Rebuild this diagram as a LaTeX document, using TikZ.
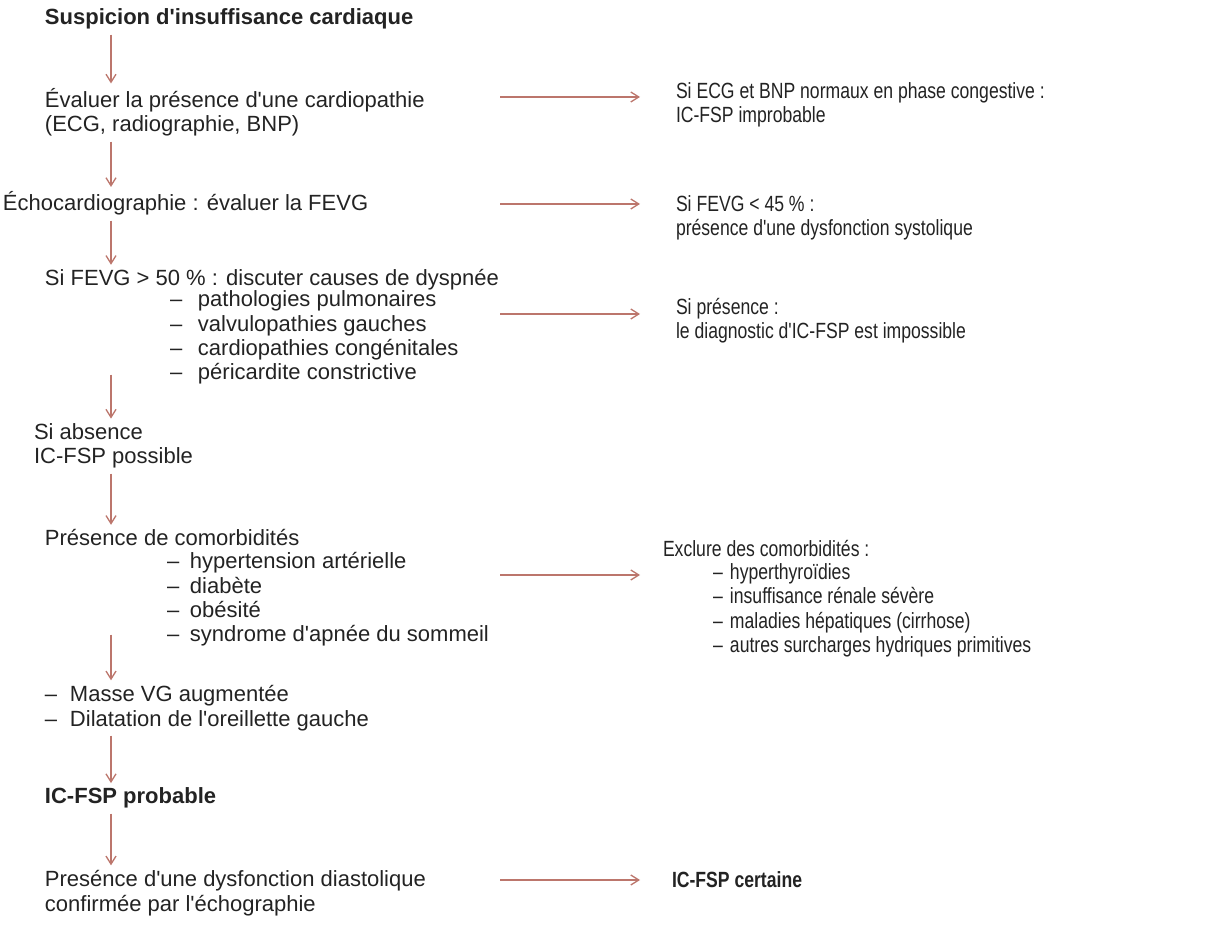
\documentclass[tikz,border=0pt]{standalone}
\usepackage{fontspec}
\setmainfont{Liberation Sans}[Ligatures=TeXOff]
\newfontfamily\etroit{Liberation Sans}[FakeStretch=0.8,Ligatures=TeXOff]
\usetikzlibrary{arrows.meta}
\definecolor{encre}{RGB}{35,35,35}
\definecolor{brique}{RGB}{188,118,108}
\newcommand\taille{\fontsize{11pt}{12.25pt}\selectfont}
\newcommand\puce[1]{\makebox[#1][l]{–}}
\tikzset{
  etape/.style={anchor=base west,inner sep=0pt,outer sep=2.5pt,align=left,text=encre},
  titre/.style={etape,font=\taille\bfseries},
  issue/.style={etape,font=\etroit\taille},
  fl/.style={draw=brique,line width=0.65pt,-{Straight Barb[length=4pt,width=5pt]}}
}
\begin{document}
\begin{tikzpicture}[x=0.5pt,y=-0.5pt,font=\taille]
\useasboundingbox[fill=white] (0,0) rectangle (1207,925);
\coordinate (axe) at (111,0);
% colonne de gauche (base = derniere ligne)
\node[titre] (susp) at (40,25) {Suspicion d'insuffisance cardiaque};
\node[etape] (eval) at (40,132) {Évaluer la présence d'une cardiopathie\\(ECG, radiographie, BNP)};
\node[etape] (echo) at (-2,211) {Échocardiographie : évaluer la FEVG};
\node[etape] (dysp) at (40,286) {Si FEVG > 50 \% : discuter causes de dyspnée};
\node[etape] (causes) at (165,380) {\puce{14pt}pathologies pulmonaires\\
  \puce{14pt}valvulopathies gauches\\\puce{14pt}cardiopathies congénitales\\
  \puce{14pt}péricardite constrictive};
\node[etape] (absence) at (29,464) {Si absence\\IC-FSP possible};
\node[etape] (comorb) at (40,546) {Présence de comorbidités};
\node[etape] (facteurs) at (162,642) {\puce{11.5pt}hypertension artérielle\\
  \puce{11.5pt}diabète\\\puce{11.5pt}obésité\\\puce{11.5pt}syndrome d'apnée du sommeil};
\node[etape] (masse) at (40,726) {\puce{12.5pt}Masse VG augmentée\\
  \puce{12.5pt}Dilatation de l'oreillette gauche};
\node[titre] (probable) at (40,804) {IC-FSP probable};
\node[etape] (diast) at (40,911) {Presénce d'une dysfonction diastolique\\confirmée par l'échographie};
% colonne de droite
\node[issue] (ecg) at (671,123) {Si ECG et BNP normaux en phase congestive :\\IC-FSP improbable};
\node[issue] (systole) at (671,236) {Si FEVG < 45 \% :\\présence d'une dysfonction systolique};
\node[issue] (impossible) at (671,339) {Si présence :\\le diagnostic d'IC-FSP est impossible};
\node[issue] (exclure) at (658,557) {Exclure des comorbidités :};
\node[issue] (autres) at (708,653) {\puce{8.5pt}hyperthyroïdies\\
  \puce{8.5pt}insuffisance rénale sévère\\\puce{8.5pt}maladies hépatiques (cirrhose)\\
  \puce{8.5pt}autres surcharges hydriques primitives};
\node[titre,font=\etroit\taille\bfseries] (certaine) at (667,887) {IC-FSP certaine};
% fleches verticales
\draw[fl] (susp.south -| axe) -- (eval.north -| axe);
\draw[fl] (eval.south -| axe) -- (echo.north -| axe);
\draw[fl] (echo.south -| axe) -- (dysp.north -| axe);
\draw[fl,shorten <=-7.5pt] (causes.south -| axe) -- (absence.north -| axe);
\draw[fl] (absence.south -| axe) -- (comorb.north -| axe);
\draw[fl,shorten <=-8.5pt] (facteurs.south -| axe) -- (masse.north -| axe);
\draw[fl] (masse.south -| axe) -- (probable.north -| axe);
\draw[fl] (probable.south -| axe) -- (diast.north -| axe);
% fleches horizontales
\foreach \n/\y in {1/97,2/204,3/314,4/575,5/880}
  {\coordinate (g\n) at (500,\y);
   \coordinate (d\n) at (640,\y);
   \draw[fl] (g\n) -- (d\n);}
\end{tikzpicture}
\end{document}
